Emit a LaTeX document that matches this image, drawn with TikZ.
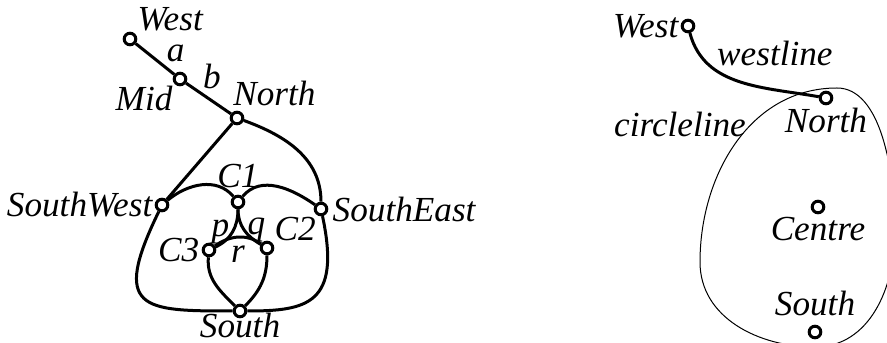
\documentclass[tikz,border=0pt]{standalone}
\usepackage{fontspec}
\setmainfont{Liberation Serif}
\usetikzlibrary{positioning}

\begin{document}
\begin{tikzpicture}[
        x=0.5pt, y=0.5pt,
        every node/.style={font=\fontsize{17.6}{20}\selectfont\itshape},
        vertex/.style={circle, draw, fill=white, line width=1.5pt, inner sep=0pt, minimum size=5.8pt},
        lbl/.style={inner sep=1pt},
        edge/.style={line width=1.5pt},
        thinline/.style={line width=0.5pt}
    ]
        \useasboundingbox (0,0) rectangle (887,342);
        % left graph
        \node[vertex, label={[lbl]above right:West}] (west) at (130,303) {};
        \node[vertex, label={[lbl]below left:Mid}] (mid) at (180,263) {};
        \node[vertex, label={[lbl, anchor=south west, xshift=-3pt, yshift=1pt]north:North}] (north) at (237,224) {};
        \node[vertex, label={[lbl]left:SouthWest}] (sw) at (162,137) {};
        \node[vertex, label={[lbl, label distance=1pt]right:SouthEast}] (se) at (321,133) {};
        \node[vertex, label={[lbl, label distance=2pt]above:C1}] (c1) at (238,140) {};
        \node[vertex, label={[lbl]above right:C2}] (c2) at (267,94) {};
        \node[vertex, label={[lbl]left:C3}] (c3) at (209,92) {};
        \node[vertex, label={[lbl, label distance=-4pt]below:South}] (south) at (240,31) {};
        \draw[edge] (west) -- node[lbl, pos=0.72, above right] (alab) {a} (mid);
        \draw[edge] (mid) -- node[lbl, pos=0.3, above right] (blab) {b} (north);
        \draw[edge] (north) -- (sw);
        \draw[edge] (north) to[out=-20, in=90] (se);
        \draw[edge] (sw) to[out=40, in=130] (c1);
        \draw[edge] (c1) to[out=50, in=145] (se);
        \draw[edge] (sw) to[out=-116, in=180, out distance=55pt, in distance=45pt] (south);
        \draw[edge] (se) to[out=-78, in=0, out distance=45pt, in distance=30pt] (south);
        \draw[edge] (c1) to[out=-90, in=25] node[lbl, left] (plab) {p} (c3);
        \draw[edge] (c1) to[out=-90, in=150] node[lbl, right] (qlab) {q} (c2);
        \draw[edge] (c3) to[out=35, in=145] node[lbl, below, yshift=-2.5pt] (rlab) {r} (c2);
        \draw[edge] (c3) to[out=-95, in=135] (south);
        \draw[edge] (c2) to[out=-90, in=45] (south);
        % right graph
        \draw[thinline] (837,254) to[out=180, in=90] (700,80) to[out=-90, in=180] (815,-5)
            to[out=0, in=-90] (895,110) to[out=90, in=0, in distance=22pt] (837,254);
        \node[lbl] (circlelbl) at (680,218) {circleline};
        \node[vertex, label={[lbl]left:West}] (westr) at (688,316) {};
        \node[vertex, label={[lbl]below:North}] (northr) at (826,244) {};
        \node[vertex, label={[lbl]below:Centre}] (centre) at (818,135) {};
        \node[vertex, label={[lbl, label distance=3pt]above:South}] (southr) at (815,10) {};
        \draw[edge] (westr) to[out=-75, in=170] node[lbl, pos=0.3, above right] (wlab) {westline} (northr);
\end{tikzpicture}
\end{document}
